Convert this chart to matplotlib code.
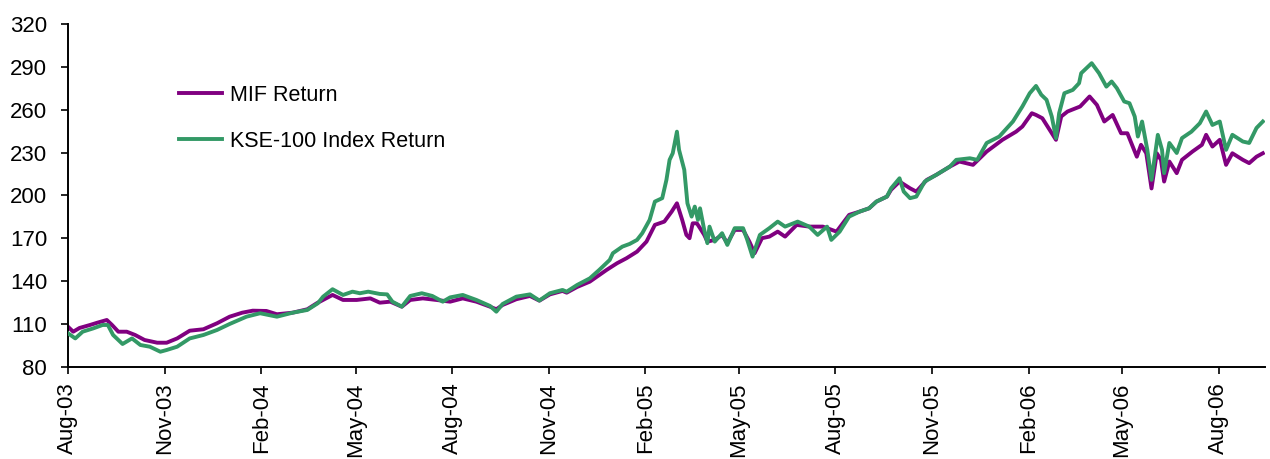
import matplotlib
matplotlib.use("Agg")
import matplotlib.pyplot as plt
import matplotlib.dates as mdates
import pandas as pd

plt.rcParams['font.family'] = ['Liberation Sans', 'DejaVu Sans']

START = "2003-08-01"

# MIF Return: days since start, index value
mif_days = [0, 5, 11, 21, 28, 37, 42, 48, 56, 64, 73, 85, 94, 104, 116, 129, 142, 154, 166, 176,
            189, 199, 214, 228, 237, 243, 252, 262, 275, 288, 297, 307, 318, 326, 338, 351, 364, 376,
            389, 402, 408, 414, 427, 440, 449, 459, 471, 475, 485, 497, 513, 523, 532, 542, 551, 559,
            568, 575, 580, 583, 585, 589, 592, 595, 599, 602, 606, 609, 616, 623, 628, 635, 643, 649,
            654, 661, 668, 676, 683, 694, 706, 719, 732, 744, 754, 763, 770, 780, 784, 792, 802, 808,
            818, 827, 840, 849, 862, 875, 890, 903, 909, 918, 922, 928, 935, 941, 946, 952, 964, 973,
            980, 987, 995, 1003, 1009, 1018, 1022, 1027, 1032, 1037, 1041, 1044, 1049, 1056, 1061,
            1071, 1080, 1084, 1090, 1097, 1103, 1109, 1119, 1125, 1132, 1138]
mif_vals = [108.2, 104.7, 107.3, 109.4, 111.0, 112.9, 109.4, 104.7, 104.7, 102.4, 98.9, 97.0, 97.0,
            100.0, 105.4, 106.4, 110.6, 115.2, 118.0, 119.4, 119.2, 116.9, 118.0, 120.4, 124.6, 126.9,
            130.4, 126.9, 126.9, 128.0, 125.0, 125.7, 122.2, 126.9, 128.0, 126.9, 125.7, 128.0, 125.7,
            122.2, 120.4, 123.4, 127.4, 129.7, 126.4, 130.8, 133.2, 132.0, 136.0, 139.7, 147.9, 152.6,
            156.1, 160.7, 167.7, 179.4, 181.7, 188.7, 194.5, 187.5, 182.9, 172.4, 170.1, 180.5, 180.5,
            177.1, 172.4, 167.7, 168.9, 172.4, 166.6, 175.9, 175.9, 167.7, 159.6, 170.1, 171.2, 174.7,
            171.2, 179.4, 178.2, 178.2, 174.7, 186.4, 188.7, 191.0, 195.7, 199.2, 204.0, 209.7, 205.0,
            202.7, 210.9, 214.4, 220.2, 223.7, 221.4, 230.7, 238.9, 244.6, 248.2, 257.5, 256.3, 254.0,
            245.8, 238.9, 255.2, 258.7, 262.2, 269.2, 263.3, 251.7, 256.3, 243.5, 243.5, 227.1, 235.4,
            229.5, 204.9, 229.5, 224.9, 209.7, 223.7, 215.6, 224.9, 230.7, 235.4, 242.4, 234.2, 238.9,
            221.4, 229.5, 224.9, 222.6, 227.1, 229.5]

# KSE-100 Index Return: days since start, index value
kse_days = [0, 7, 14, 24, 33, 38, 43, 52, 61, 69, 78, 88, 94, 104, 116, 129, 142, 154, 170, 183,
            199, 214, 228, 238, 243, 252, 262, 271, 278, 286, 297, 304, 309, 318, 326, 337, 347, 357,
            364, 376, 389, 402, 408, 414, 427, 440, 449, 459, 471, 475, 485, 497, 506, 516, 519, 528,
            535, 542, 547, 554, 559, 566, 570, 573, 576, 580, 582, 587, 590, 594, 597, 600, 602, 606,
            609, 611, 616, 623, 628, 635, 643, 647, 652, 659, 668, 676, 683, 695, 706, 714, 723, 727,
            735, 744, 754, 763, 770, 780, 784, 792, 796, 802, 808, 816, 827, 840, 846, 859, 866, 875,
            887, 900, 909, 916, 922, 927, 932, 937, 941, 944, 949, 957, 963, 965, 975, 982, 989, 994,
            999, 1006, 1011, 1016, 1019, 1023, 1028, 1032, 1038, 1042, 1044, 1049, 1056, 1061, 1070,
            1078, 1084, 1090, 1097, 1103, 1109, 1119, 1125, 1132, 1138]
kse_vals = [103.6, 100.0, 104.7, 107.0, 109.4, 109.4, 102.4, 96.1, 100.0, 95.4, 94.2, 90.7, 91.9,
            94.2, 100.0, 102.4, 105.9, 110.1, 115.2, 117.6, 115.2, 118.0, 119.9, 124.6, 129.2, 134.4,
            130.4, 132.7, 131.6, 132.7, 131.1, 130.8, 125.7, 122.2, 129.7, 131.6, 129.7, 125.7, 128.7,
            130.4, 126.9, 122.7, 118.7, 124.1, 129.2, 130.8, 126.5, 131.6, 133.9, 132.7, 137.4, 142.0,
            147.9, 154.9, 159.6, 164.2, 166.1, 168.9, 173.6, 182.9, 195.7, 198.1, 210.9, 224.9, 229.5,
            244.6, 231.9, 217.9, 194.5, 185.2, 192.2, 182.9, 191.0, 175.9, 166.6, 178.2, 167.7, 173.6,
            165.4, 177.1, 177.1, 168.9, 157.2, 172.4, 177.1, 181.7, 178.2, 181.7, 178.2, 172.4, 178.2,
            168.9, 174.7, 185.2, 188.7, 191.0, 195.7, 199.2, 205.0, 212.0, 202.7, 198.1, 199.2, 209.7,
            214.4, 220.2, 224.9, 226.0, 224.9, 236.7, 241.2, 251.7, 262.2, 271.5, 276.6, 270.4, 266.9,
            255.2, 240.1, 257.5, 271.5, 273.8, 278.5, 285.5, 292.5, 285.5, 276.1, 279.7, 275.0, 265.7,
            264.5, 255.2, 241.2, 251.7, 231.9, 210.9, 242.4, 231.9, 215.6, 236.7, 229.7, 240.1, 244.6,
            250.5, 258.7, 249.3, 251.7, 231.9, 242.4, 237.7, 236.7, 247.2, 251.7]

series_labels = ["MIF Return", "KSE-100 Index Return"]
y_ticks = [80, 110, 140, 170, 200, 230, 260, 290, 320]

start = pd.Timestamp(START)
mif_dates = start + pd.to_timedelta(mif_days, unit="D")
kse_dates = start + pd.to_timedelta(kse_days, unit="D")

fig = plt.figure(figsize=(12.7, 4.59), dpi=100)
ax = fig.add_axes([0.0535, 0.2004, 0.9425, 0.7476])

ax.plot(mif_dates, mif_vals, color="#800080", lw=2.8, label=series_labels[0], zorder=2)
ax.plot(kse_dates, kse_vals, color="#339966", lw=2.8, label=series_labels[1], zorder=3)

ax.set_ylim(80, 320)
ax.set_yticks(y_ticks)
ax.set_xlim(start, start + pd.Timedelta(days=1140))
ax.xaxis.set_major_locator(mdates.MonthLocator(bymonth=[2, 5, 8, 11]))
ax.xaxis.set_major_formatter(mdates.DateFormatter("%b-%y"))

for s in ["top", "right"]:
    ax.spines[s].set_visible(False)
for s in ["left", "bottom"]:
    ax.spines[s].set_linewidth(1.4)
    ax.spines[s].set_color("black")

ax.tick_params(axis="y", direction="out", length=5, width=1.2, labelsize=16, pad=10)
ax.tick_params(axis="x", direction="out", length=5, width=1.2, labelsize=16, pad=6,
               labelrotation=90)

leg = ax.legend(loc="upper left", bbox_to_anchor=(0.141, 0.815), bbox_transform=fig.transFigure,
                frameon=False, fontsize=15.5, handlelength=2.0, handletextpad=0.35,
                labelspacing=1.15, borderpad=0, borderaxespad=0)

fig.savefig("out.png", dpi=100)
